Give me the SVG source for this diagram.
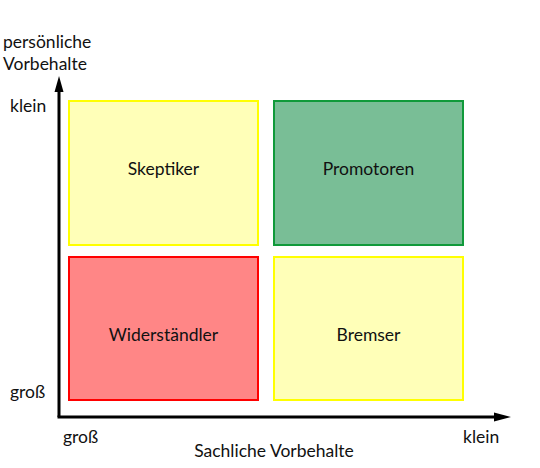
<svg xmlns="http://www.w3.org/2000/svg" width="540" height="468" viewBox="0 0 540 468">
<style>
text{font-family:Lato,"Open Sans","Liberation Sans",sans-serif;font-size:17.5px;fill:#111}
.c{text-anchor:middle}
.ax{stroke:#000;stroke-width:3;fill:none}
.y{fill:#FFFFB8;stroke:#FFFF00;stroke-width:2}
.g{fill:#79BE96;stroke:#109A3A;stroke-width:2}
.r{fill:#FF8686;stroke:#FF0000;stroke-width:2}
</style>
<rect width="540" height="468" fill="#fff"/>
<g id="connectors">
<path class="ax" d="M59,417 V90"/>
<path d="M59,76 L54.5,92 L63.5,92 Z" fill="#000"/>
<path class="ax" d="M57.5,417 H496"/>
<path d="M511,417 L494,412.5 L494,421.5 Z" fill="#000"/>
</g>
<g id="skeptiker"><rect class="y" x="69" y="101" width="189" height="144"/><text class="c" x="163.5" y="175">Skeptiker</text></g>
<g id="promotoren"><rect class="g" x="274" y="101" width="189" height="144"/><text class="c" x="368.5" y="175">Promotoren</text></g>
<g id="widerstaendler"><rect class="r" x="69" y="257" width="189" height="143"/><text class="c" x="163.5" y="341">Widerständler</text></g>
<g id="bremser"><rect class="y" x="274" y="257" width="189" height="143"/><text class="c" x="368.5" y="341">Bremser</text></g>
<g id="labels">
<text x="3" y="48">persönliche</text>
<text x="3" y="70">Vorbehalte</text>
<text x="10" y="112">klein</text>
<text x="10" y="398">groß</text>
<text x="63" y="443">groß</text>
<text x="463" y="443">klein</text>
<text class="c" x="274" y="457">Sachliche Vorbehalte</text>
</g>
</svg>
